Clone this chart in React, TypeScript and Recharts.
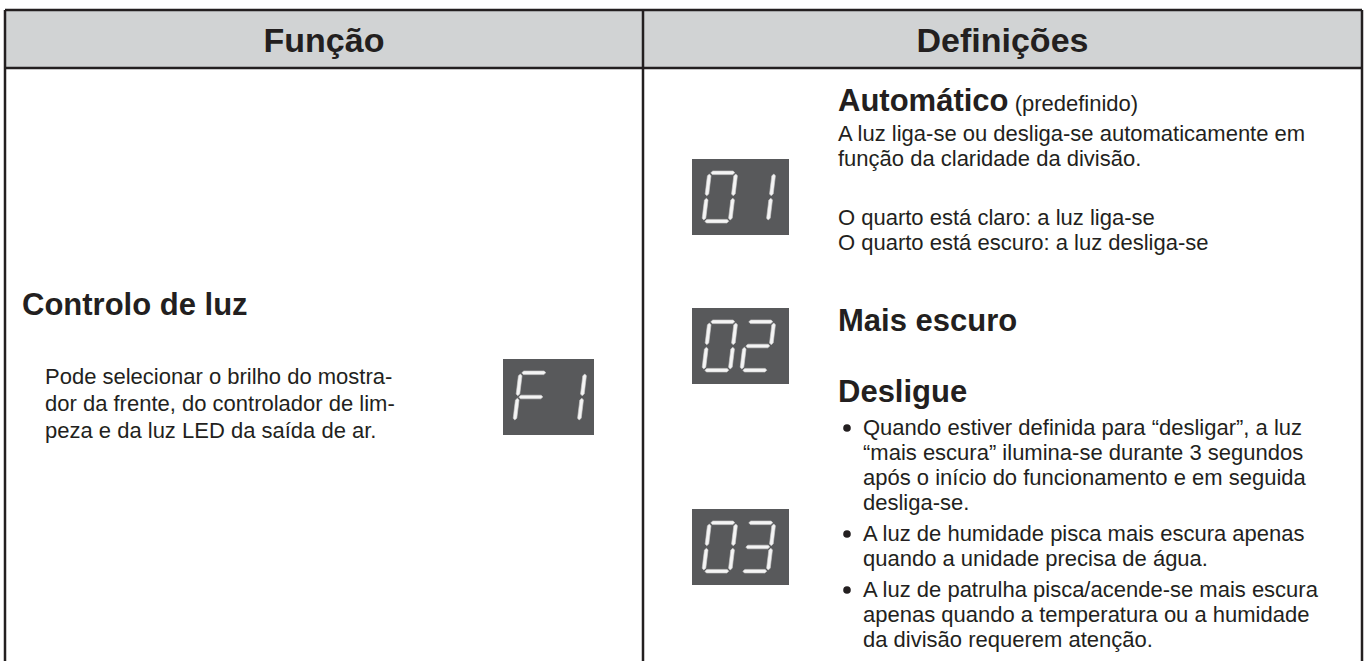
import { ComposedChart, Customized } from 'recharts';

// table content
const headers = ['Função', 'Definições'];
const functionTitle = 'Controlo de luz';
const functionText = [
  'Pode selecionar o brilho do mostra-',
  'dor da frente, do controlador de lim-',
  'peza e da luz LED da saída de ar.',
];
const functionCode = 'F1';
const settingCodes = ['01', '02', '03'];
const settingTitles = ['Automático', 'Mais escuro', 'Desligue'];
const autoNote = '(predefinido)';
const autoLines = [
  'A luz liga-se ou desliga-se automaticamente em',
  'função da claridade da divisão.',
];
const autoStates = [
  'O quarto está claro: a luz liga-se',
  'O quarto está escuro: a luz desliga-se',
];
const offBullets = [
  [
    'Quando estiver definida para “desligar”, a luz',
    '“mais escura” ilumina-se durante 3 segundos',
    'após o início do funcionamento e em seguida',
    'desliga-se.',
  ],
  ['A luz de humidade pisca mais escura apenas', 'quando a unidade precisa de água.'],
  [
    'A luz de patrulha pisca/acende-se mais escura',
    'apenas quando a temperatura ou a humidade',
    'da divisão requerem atenção.',
  ],
];

// which segments light up for each character
const segmentMap: Record<string, string> = {
  '0': 'abcdef',
  '1': 'bc',
  '2': 'abged',
  '3': 'abgcd',
  F: 'aefg',
};

const W = 1368;
const H = 661;
const FONT = '"Liberation Sans", Arial, Helvetica, sans-serif';
const INK = '#231f20';
const BODY = 22;
const TITLE = 31;
const LINE = 25;

const grid = { top: 10, head: 68, left: 5, mid: 643, right: 1362 };
const rightX = 838;

function Digit({ x, y, ch }: { x: number; y: number; ch: string }) {
  const w = 30;
  const h = 52;
  const t = 3.6;
  const g = 1.2;
  const L = t / 2;
  const R = w - t / 2;
  const T = t / 2;
  const M = h / 2;
  const B = h - t / 2;
  const hs = (x1: number, x2: number, yy: number) =>
    `${x1},${yy} ${x1 + t / 2},${yy - t / 2} ${x2 - t / 2},${yy - t / 2} ${x2},${yy} ${x2 - t / 2},${yy + t / 2} ${x1 + t / 2},${yy + t / 2}`;
  const vs = (xx: number, y1: number, y2: number) =>
    `${xx},${y1} ${xx + t / 2},${y1 + t / 2} ${xx + t / 2},${y2 - t / 2} ${xx},${y2} ${xx - t / 2},${y2 - t / 2} ${xx - t / 2},${y1 + t / 2}`;
  const segs: Record<string, string> = {
    a: hs(L + g, R - g, T),
    g: hs(L + g, R - g, M),
    d: hs(L + g, R - g, B),
    f: vs(L, T + g, M - g),
    e: vs(L, M + g, B - g),
    b: vs(R, T + g, M - g),
    c: vs(R, M + g, B - g),
  };
  const on = segmentMap[ch] || '';
  return (
    <g transform={`translate(${x},${y}) skewX(-7)`}>
      {on.split('').map((s) => (
        <polygon key={s} points={segs[s]} fill="#f4f4f4" stroke="#cfcfcf" strokeWidth={0.6} />
      ))}
    </g>
  );
}

function Display({ x, y, w, code }: { x: number; y: number; w: number; code: string }) {
  return (
    <g>
      <rect x={x} y={y} width={w} height={76} fill="#58595b" />
      <Digit x={x + 16} y={y + 12} ch={code[0]} />
      <Digit x={x + 54} y={y + 12} ch={code[1]} />
    </g>
  );
}

function TableLayer() {
  const leftCenter = (grid.left + grid.mid) / 2;
  const rightCenter = (grid.mid + grid.right) / 2;
  const bulletRows: { text: string; y: number; first: boolean }[] = [];
  let by = 435;
  offBullets.forEach((lines, i) => {
    if (i > 0) by += 6;
    lines.forEach((text, j) => {
      bulletRows.push({ text, y: by, first: j === 0 });
      by += LINE;
    });
  });
  return (
    <g fontFamily={FONT} fill={INK}>
      <rect x={0} y={0} width={W} height={H} fill="#ffffff" />
      <rect x={grid.left} y={grid.top} width={grid.right - grid.left} height={grid.head - grid.top} fill="#d1d3d4" />
      <g stroke={INK} strokeWidth={2.5} fill="none">
        <line x1={grid.left} y1={grid.top} x2={grid.right} y2={grid.top} />
        <line x1={grid.left} y1={grid.head} x2={grid.right} y2={grid.head} />
        <line x1={grid.left} y1={grid.top} x2={grid.left} y2={H} />
        <line x1={grid.mid} y1={grid.top} x2={grid.mid} y2={H} />
        <line x1={grid.right} y1={grid.top} x2={grid.right} y2={H} />
      </g>
      <text x={leftCenter} y={52} textAnchor="middle" fontSize={34} fontWeight="bold">
        {headers[0]}
      </text>
      <text x={rightCenter} y={52} textAnchor="middle" fontSize={34} fontWeight="bold">
        {headers[1]}
      </text>

      {/* left column */}
      <text x={22} y={315} fontSize={TITLE} fontWeight="bold">
        {functionTitle}
      </text>
      {functionText.map((line, i) => (
        <text key={line} x={45} y={384 + i * 27} fontSize={BODY}>
          {line}
        </text>
      ))}
      <Display x={503} y={359} w={91} code={functionCode} />

      {/* right column */}
      <Display x={692} y={159} w={97} code={settingCodes[0]} />
      <Display x={692} y={308} w={97} code={settingCodes[1]} />
      <Display x={692} y={509} w={97} code={settingCodes[2]} />

      <text x={rightX} y={111}>
        <tspan fontSize={TITLE} fontWeight="bold">
          {settingTitles[0]}
        </tspan>
        <tspan fontSize={BODY}> {autoNote}</tspan>
      </text>
      {autoLines.map((line, i) => (
        <text key={line} x={rightX} y={141 + i * LINE} fontSize={BODY}>
          {line}
        </text>
      ))}
      {autoStates.map((line, i) => (
        <text key={line} x={rightX} y={225 + i * LINE} fontSize={BODY}>
          {line}
        </text>
      ))}
      <text x={rightX} y={331} fontSize={TITLE} fontWeight="bold">
        {settingTitles[1]}
      </text>
      <text x={rightX} y={402} fontSize={TITLE} fontWeight="bold">
        {settingTitles[2]}
      </text>
      {bulletRows.map((r) => (
        <g key={r.text}>
          {r.first && <circle cx={rightX + 9} cy={r.y - 7} r={3.8} fill={INK} />}
          <text x={rightX + 25} y={r.y} fontSize={BODY}>
            {r.text}
          </text>
        </g>
      ))}
    </g>
  );
}

export default function App() {
  return (
    <div style={{ position: 'absolute', left: 0, top: 0, width: W, height: H, background: '#fff' }}>
      <ComposedChart width={W} height={H} data={[]} margin={{ top: 0, right: 0, bottom: 0, left: 0 }}>
        <Customized component={TableLayer} />
      </ComposedChart>
    </div>
  );
}
